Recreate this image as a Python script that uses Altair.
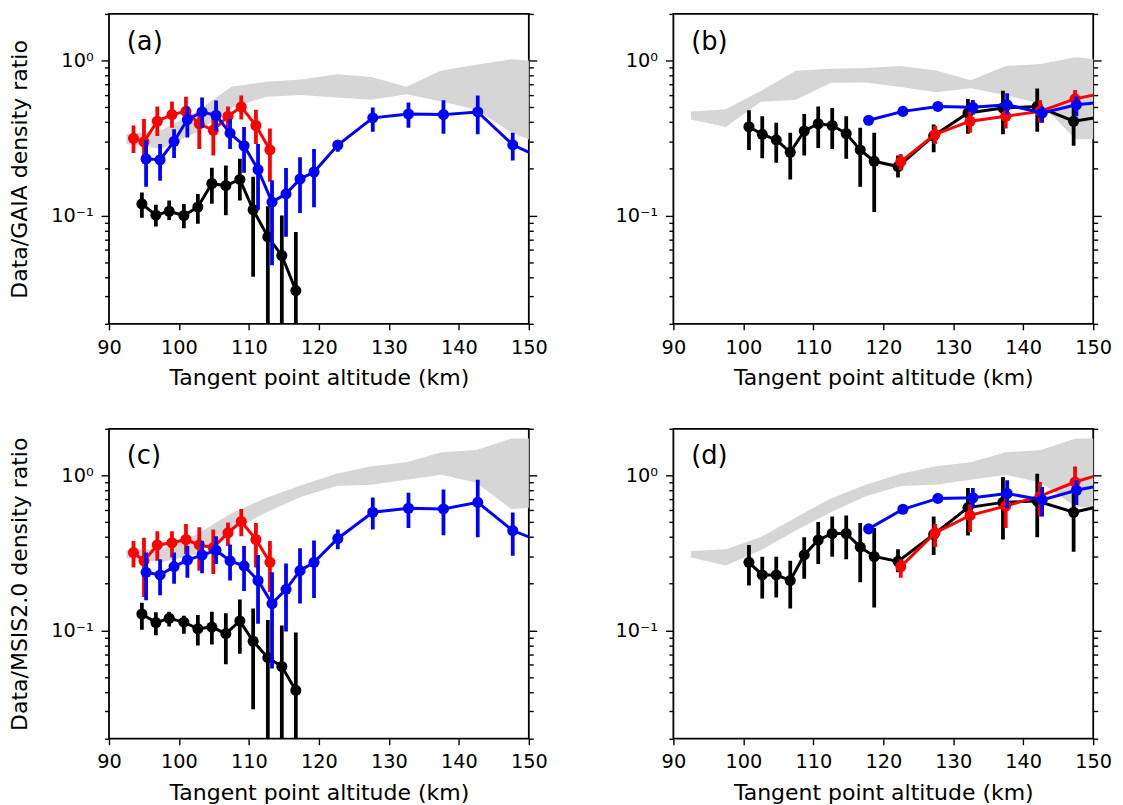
import altair as alt
import pandas as pd

FONT = "DejaVu Sans"

# ---------------- data ----------------
band_x = [92.5, 97.5, 102.5, 107.5, 112.5, 117.5, 122.5, 127.5, 132.5, 137.5, 142.5, 147.5, 152.5]

a_band_hi = [0.334, 0.355, 0.470, 0.678, 0.729, 0.754, 0.815, 0.784, 0.678, 0.864, 0.939, 1.02, 0.98]
a_band_lo = [0.289, 0.269, 0.343, 0.494, 0.585, 0.600, 0.577, 0.558, 0.606, 0.544, 0.482, 0.343, 0.28]
b_band_hi = [0.470, 0.486, 0.636, 0.860, 0.885, 0.894, 0.921, 0.864, 0.747, 0.921, 0.952, 1.05, 1.0]
b_band_lo = [0.416, 0.372, 0.542, 0.558, 0.718, 0.722, 0.674, 0.624, 0.664, 0.597, 0.526, 0.311, 0.31]
c_band_hi = [0.329, 0.334, 0.416, 0.571, 0.718, 0.864, 1.025, 1.146, 1.215, 1.41, 1.46, 1.73, 1.73]
c_band_lo = [0.292, 0.275, 0.310, 0.436, 0.579, 0.728, 0.855, 0.872, 0.939, 1.01, 0.898, 0.608, 0.63]
d_band_hi = [0.326, 0.334, 0.400, 0.536, 0.711, 0.872, 1.025, 1.146, 1.215, 1.41, 1.46, 1.73, 1.73]
d_band_lo = [0.295, 0.262, 0.329, 0.441, 0.579, 0.735, 0.855, 0.872, 0.939, 1.01, 0.898, 0.629, 0.614]

# left column altitudes
ac_black_x = [94.7, 96.7, 98.6, 100.7, 102.7, 104.7, 106.7, 108.7, 110.6, 112.7, 114.7, 116.7]
ac_red_x = [93.5, 95.0, 96.9, 99.0, 101.0, 102.9, 104.9, 107.0, 108.9, 111.0, 113.0]
ac_blue_x = [95.3, 97.3, 99.3, 101.2, 103.3, 105.3, 107.3, 109.3, 111.3, 113.3, 115.3, 117.3,
             119.3, 122.7, 127.7, 132.8, 137.8, 142.7, 147.7, 152.7]
# right column altitudes
bd_black_x = [100.8, 102.7, 104.7, 106.7, 108.7, 110.7, 112.7, 114.7, 116.7, 118.7, 122.1,
              127.2, 132.1, 137.1, 142.0, 147.2, 152.6]
bd_red_x = [122.5, 127.4, 132.4, 137.5, 142.4, 147.4, 152.6]
bd_blue_x = [117.9, 122.8, 127.8, 132.8, 137.7, 142.7, 147.6, 152.4]

# panel (a)
a_black_y = [0.119, 0.1005, 0.1066, 0.100, 0.1135, 0.161, 0.156, 0.171, 0.109, 0.0729, 0.0552, 0.0328]
a_black_lo = [0.0967, 0.0848, 0.0934, 0.0827, 0.0885, 0.1192, 0.1005, 0.1251, 0.0402, 0.001, 0.001, 0.001]
a_black_hi = [0.141, 0.1175, 0.1251, 0.1186, 0.1378, 0.2035, 0.2106, 0.2322, 0.1776, 0.1146, 0.100, 0.0784]
a_red_y = [0.315, 0.299, 0.406, 0.448, 0.470, 0.391, 0.355, 0.437, 0.503, 0.381, 0.265]
a_red_lo = [0.253, 0.216, 0.326, 0.369, 0.378, 0.269, 0.244, 0.369, 0.416, 0.289, 0.165]
a_red_hi = [0.381, 0.420, 0.506, 0.544, 0.585, 0.475, 0.452, 0.506, 0.594, 0.482, 0.365]
a_blue_y = [0.232, 0.229, 0.301, 0.416, 0.466, 0.443, 0.340, 0.282, 0.198, 0.122, 0.138, 0.172,
            0.191, 0.285, 0.427, 0.452, 0.448, 0.466, 0.286, 0.225]
a_blue_lo = [0.1535, 0.1675, 0.2353, 0.3185, 0.3686, 0.351, 0.2687, 0.189, 0.109, 0.0477, 0.0729, 0.104,
             0.113, 0.2584, 0.3477, 0.3686, 0.3377, 0.3344, 0.2265, 0.225]
a_blue_hi = [0.3076, 0.289, 0.360, 0.5058, 0.577, 0.552, 0.4204, 0.372, 0.289, 0.169, 0.2025, 0.2378,
             0.2687, 0.3076, 0.4985, 0.536, 0.5547, 0.5941, 0.3425, 0.225]

# panel (b)
b_black_y = [0.374, 0.334, 0.308, 0.256, 0.351, 0.391, 0.381, 0.338, 0.265, 0.224, 0.207, 0.327,
             0.459, 0.494, 0.506, 0.406, 0.443]
b_black_lo = [0.2648, 0.2344, 0.219, 0.1709, 0.2436, 0.2726, 0.2687, 0.2322, 0.1535, 0.1055, 0.1759,
              0.2559, 0.3377, 0.3344, 0.3477, 0.282, 0.443]
b_black_hi = [0.4772, 0.4372, 0.3965, 0.3425, 0.4521, 0.5058, 0.4936, 0.4372, 0.3686, 0.3425, 0.2436,
              0.3869, 0.5657, 0.639, 0.661, 0.4936, 0.443]
b_red_y = [0.223, 0.334, 0.406, 0.437, 0.470, 0.566, 0.633]
b_red_lo = [0.1957, 0.289, 0.3425, 0.365, 0.3965, 0.4936, 0.633]
b_red_hi = [0.2497, 0.3777, 0.4701, 0.4936, 0.5576, 0.645, 0.633]
b_blue_y = [0.412, 0.470, 0.506, 0.499, 0.518, 0.459, 0.518, 0.544]
b_blue_lo = [0.3927, 0.4478, 0.4819, 0.4478, 0.4478, 0.3965, 0.4372, 0.544]
b_blue_hi = [0.4329, 0.4936, 0.531, 0.5576, 0.6146, 0.5058, 0.5853, 0.544]

# panel (c)
c_black_y = [0.1276, 0.1124, 0.1198, 0.113, 0.1025, 0.105, 0.0953, 0.115, 0.0851, 0.0667, 0.0585, 0.041]
c_black_lo = [0.101, 0.0929, 0.106, 0.0952, 0.0799, 0.0811, 0.0605, 0.0707, 0.031, 0.001, 0.001, 0.001]
c_black_hi = [0.1507, 0.1308, 0.1321, 0.1245, 0.1258, 0.1321, 0.1289, 0.1581, 0.1387, 0.1169, 0.1076, 0.0971]
c_red_y = [0.318, 0.281, 0.356, 0.368, 0.386, 0.356, 0.342, 0.426, 0.505, 0.386, 0.275]
c_red_lo = [0.255, 0.1645, 0.2813, 0.2953, 0.310, 0.243, 0.2314, 0.3503, 0.4056, 0.255, 0.177]
c_red_hi = [0.377, 0.396, 0.436, 0.436, 0.4858, 0.4627, 0.4471, 0.4977, 0.608, 0.4929, 0.377]
c_blue_y = [0.237, 0.228, 0.258, 0.284, 0.306, 0.329, 0.281, 0.261, 0.210, 0.149, 0.184, 0.243,
            0.275, 0.392, 0.579, 0.614, 0.608, 0.670, 0.441, 0.359]
c_blue_lo = [0.1566, 0.1685, 0.200, 0.2183, 0.2336, 0.268, 0.210, 0.1796, 0.1103, 0.0568, 0.0985, 0.1492,
             0.1621, 0.3337, 0.4471, 0.4581, 0.4116, 0.3996, 0.3027, 0.359]
c_blue_hi = [0.3177, 0.2882, 0.3177, 0.3503, 0.377, 0.4056, 0.359, 0.3503, 0.307, 0.2371, 0.2705, 0.3386,
             0.3806, 0.4471, 0.721, 0.772, 0.811, 0.9386, 0.576, 0.359]

# panel (d)
d_black_y = [0.275, 0.228, 0.228, 0.210, 0.307, 0.383, 0.422, 0.422, 0.345, 0.300, 0.279, 0.416,
             0.620, 0.670, 0.684, 0.579, 0.657]
d_black_lo = [0.1951, 0.1605, 0.1628, 0.1387, 0.2151, 0.268, 0.2983, 0.2882, 0.2049, 0.1407, 0.2371,
              0.307, 0.4096, 0.3863, 0.3996, 0.3224, 0.657]
d_black_hi = [0.3555, 0.2983, 0.2983, 0.2813, 0.3996, 0.5002, 0.5434, 0.5514, 0.4929, 0.4581, 0.3337,
              0.5434, 0.8309, 0.9759, 1.0247, 0.8027, 0.657]
d_red_y = [0.258, 0.426, 0.552, 0.635, 0.735, 0.907, 1.07]
d_red_lo = [0.2183, 0.3452, 0.4321, 0.4581, 0.5434, 0.7464, 1.07]
d_red_hi = [0.2882, 0.4858, 0.651, 0.8027, 0.907, 1.141, 1.07]
d_blue_y = [0.452, 0.605, 0.711, 0.718, 0.765, 0.694, 0.803, 0.885]
d_blue_lo = [0.43, 0.576, 0.677, 0.614, 0.614, 0.5434, 0.6446, 0.885]
d_blue_hi = [0.474, 0.635, 0.7464, 0.8309, 0.9294, 0.843, 0.9294, 0.885]

x_ticks = [90, 100, 110, 120, 130, 140, 150]
y_major = [0.1, 1]
y_minor = [0.02, 0.03, 0.04, 0.05, 0.06, 0.07, 0.08, 0.09,
           0.2, 0.3, 0.4, 0.5, 0.6, 0.7, 0.8, 0.9, 2]

W, H = 424, 313
TICK_FS = 19.5
TITLE_FS = 22.2

xscale = alt.Scale(domain=[90, 150], nice=False, zero=False)
yscale = alt.Scale(type="log", domain=[0.02, 2], nice=False)

label_expr = "datum.value == 1 ? '10⁰' : '10⁻¹'"

XAXIS = alt.Axis(
    values=x_ticks, tickSize=6, tickWidth=1.4, tickColor="black", domain=False,
    labelFont=FONT, labelFontSize=TICK_FS, labelColor="black", labelPadding=8.5,
    labelFlush=False, title="Tangent point altitude (km)", titleFont=FONT,
    titleFontSize=TITLE_FS, titleFontWeight="normal", titleColor="black",
    titlePadding=10, grid=False, orient="bottom")


def xenc():
    return alt.X("alt:Q", scale=xscale, axis=XAXIS, title="Tangent point altitude (km)")


def series_layers(xs, ys, los, his, color):
    df = pd.DataFrame({"alt": xs, "val": ys, "lo": los, "hi": his})
    base = alt.Chart(df)
    line = base.mark_line(color=color, strokeWidth=3.0, clip=True).encode(
        x=xenc(), y=alt.Y("val:Q", scale=yscale, axis=None))
    err = base.mark_rule(color=color, strokeWidth=3.8, clip=True).encode(
        x=xenc(), y=alt.Y("lo:Q", scale=yscale, axis=None), y2="hi:Q")
    pts = base.mark_circle(color=color, size=125, opacity=1, clip=True).encode(
        x=xenc(), y=alt.Y("val:Q", scale=yscale, axis=None))
    return [line, err, pts]


def tick_axis(values, size, orient, labels=False, title=None):
    kw = dict(values=values, tickSize=size, tickWidth=1.4, tickColor="black",
              domain=False, grid=False, orient=orient)
    if labels:
        kw.update(labelExpr=label_expr, labelFont=FONT, labelFontSize=TICK_FS,
                  labelColor="black", labelPadding=8, labelOverlap=False,
                  labelFlush=False)
    else:
        kw.update(labels=False)
    if title:
        kw.update(title=title, titleFont=FONT, titleFontSize=TITLE_FS,
                  titleFontWeight="normal", titleColor="black", titlePadding=19)
    else:
        kw.update(title=None)
    return alt.Axis(**kw)


def panel(label, band_hi, band_lo, black, red, blue, ytitle):
    dfb = pd.DataFrame({"alt": band_x, "hi": band_hi, "lo": band_lo})
    band = alt.Chart(dfb).mark_area(color="#d6d6d6", clip=True).encode(
        x=xenc(),
        y=alt.Y("hi:Q", scale=yscale, axis=tick_axis(y_major, 8, "left", True, ytitle)),
        y2="lo:Q")
    guide_layers = []
    for vals, size, orient in [(y_minor, 4.5, "left"), (y_major, 8, "right"), (y_minor, 4.5, "right")]:
        guide_layers.append(
            alt.Chart(dfb).mark_area(opacity=0, clip=True).encode(
                x=xenc(),
                y=alt.Y("hi:Q", scale=yscale, axis=tick_axis(vals, size, orient)),
                y2="lo:Q"))
    layers = [band] + guide_layers
    layers += series_layers(*black, "black")
    layers += series_layers(*red, "#ff0000")
    layers += series_layers(*blue, "#0000ff")
    txt = alt.Chart(pd.DataFrame({"t": [label]})).mark_text(
        align="left", baseline="middle", fontSize=26, font=FONT, color="black").encode(
        x=alt.value(18), y=alt.value(28), text="t:N")
    layers.append(txt)
    return alt.layer(*layers).resolve_axis(x="shared", y="independent").properties(width=W, height=H)


pa = panel("(a)", a_band_hi, a_band_lo,
           (ac_black_x, a_black_y, a_black_lo, a_black_hi),
           (ac_red_x, a_red_y, a_red_lo, a_red_hi),
           (ac_blue_x, a_blue_y, a_blue_lo, a_blue_hi), "Data/GAIA density ratio")
pb = panel("(b)", b_band_hi, b_band_lo,
           (bd_black_x, b_black_y, b_black_lo, b_black_hi),
           (bd_red_x, b_red_y, b_red_lo, b_red_hi),
           (bd_blue_x, b_blue_y, b_blue_lo, b_blue_hi), None)
pc = panel("(c)", c_band_hi, c_band_lo,
           (ac_black_x, c_black_y, c_black_lo, c_black_hi),
           (ac_red_x, c_red_y, c_red_lo, c_red_hi),
           (ac_blue_x, c_blue_y, c_blue_lo, c_blue_hi), "Data/MSIS2.0 density ratio")
pd_ = panel("(d)", d_band_hi, d_band_lo,
            (bd_black_x, d_black_y, d_black_lo, d_black_hi),
            (bd_red_x, d_red_y, d_red_lo, d_red_hi),
            (bd_blue_x, d_blue_y, d_blue_lo, d_blue_hi), None)

chart = alt.vconcat(
    alt.hconcat(pa, pb, spacing=66),
    alt.hconcat(pc, pd_, spacing=66),
    spacing=37,
).properties(
    padding={"left": 0, "top": 0, "right": 2, "bottom": 0}
).configure(
    font=FONT, background="white"
).configure_view(
    stroke="black", strokeWidth=1.8
)

chart.save("out.html", embed_options={"renderer": "svg", "actions": False})
